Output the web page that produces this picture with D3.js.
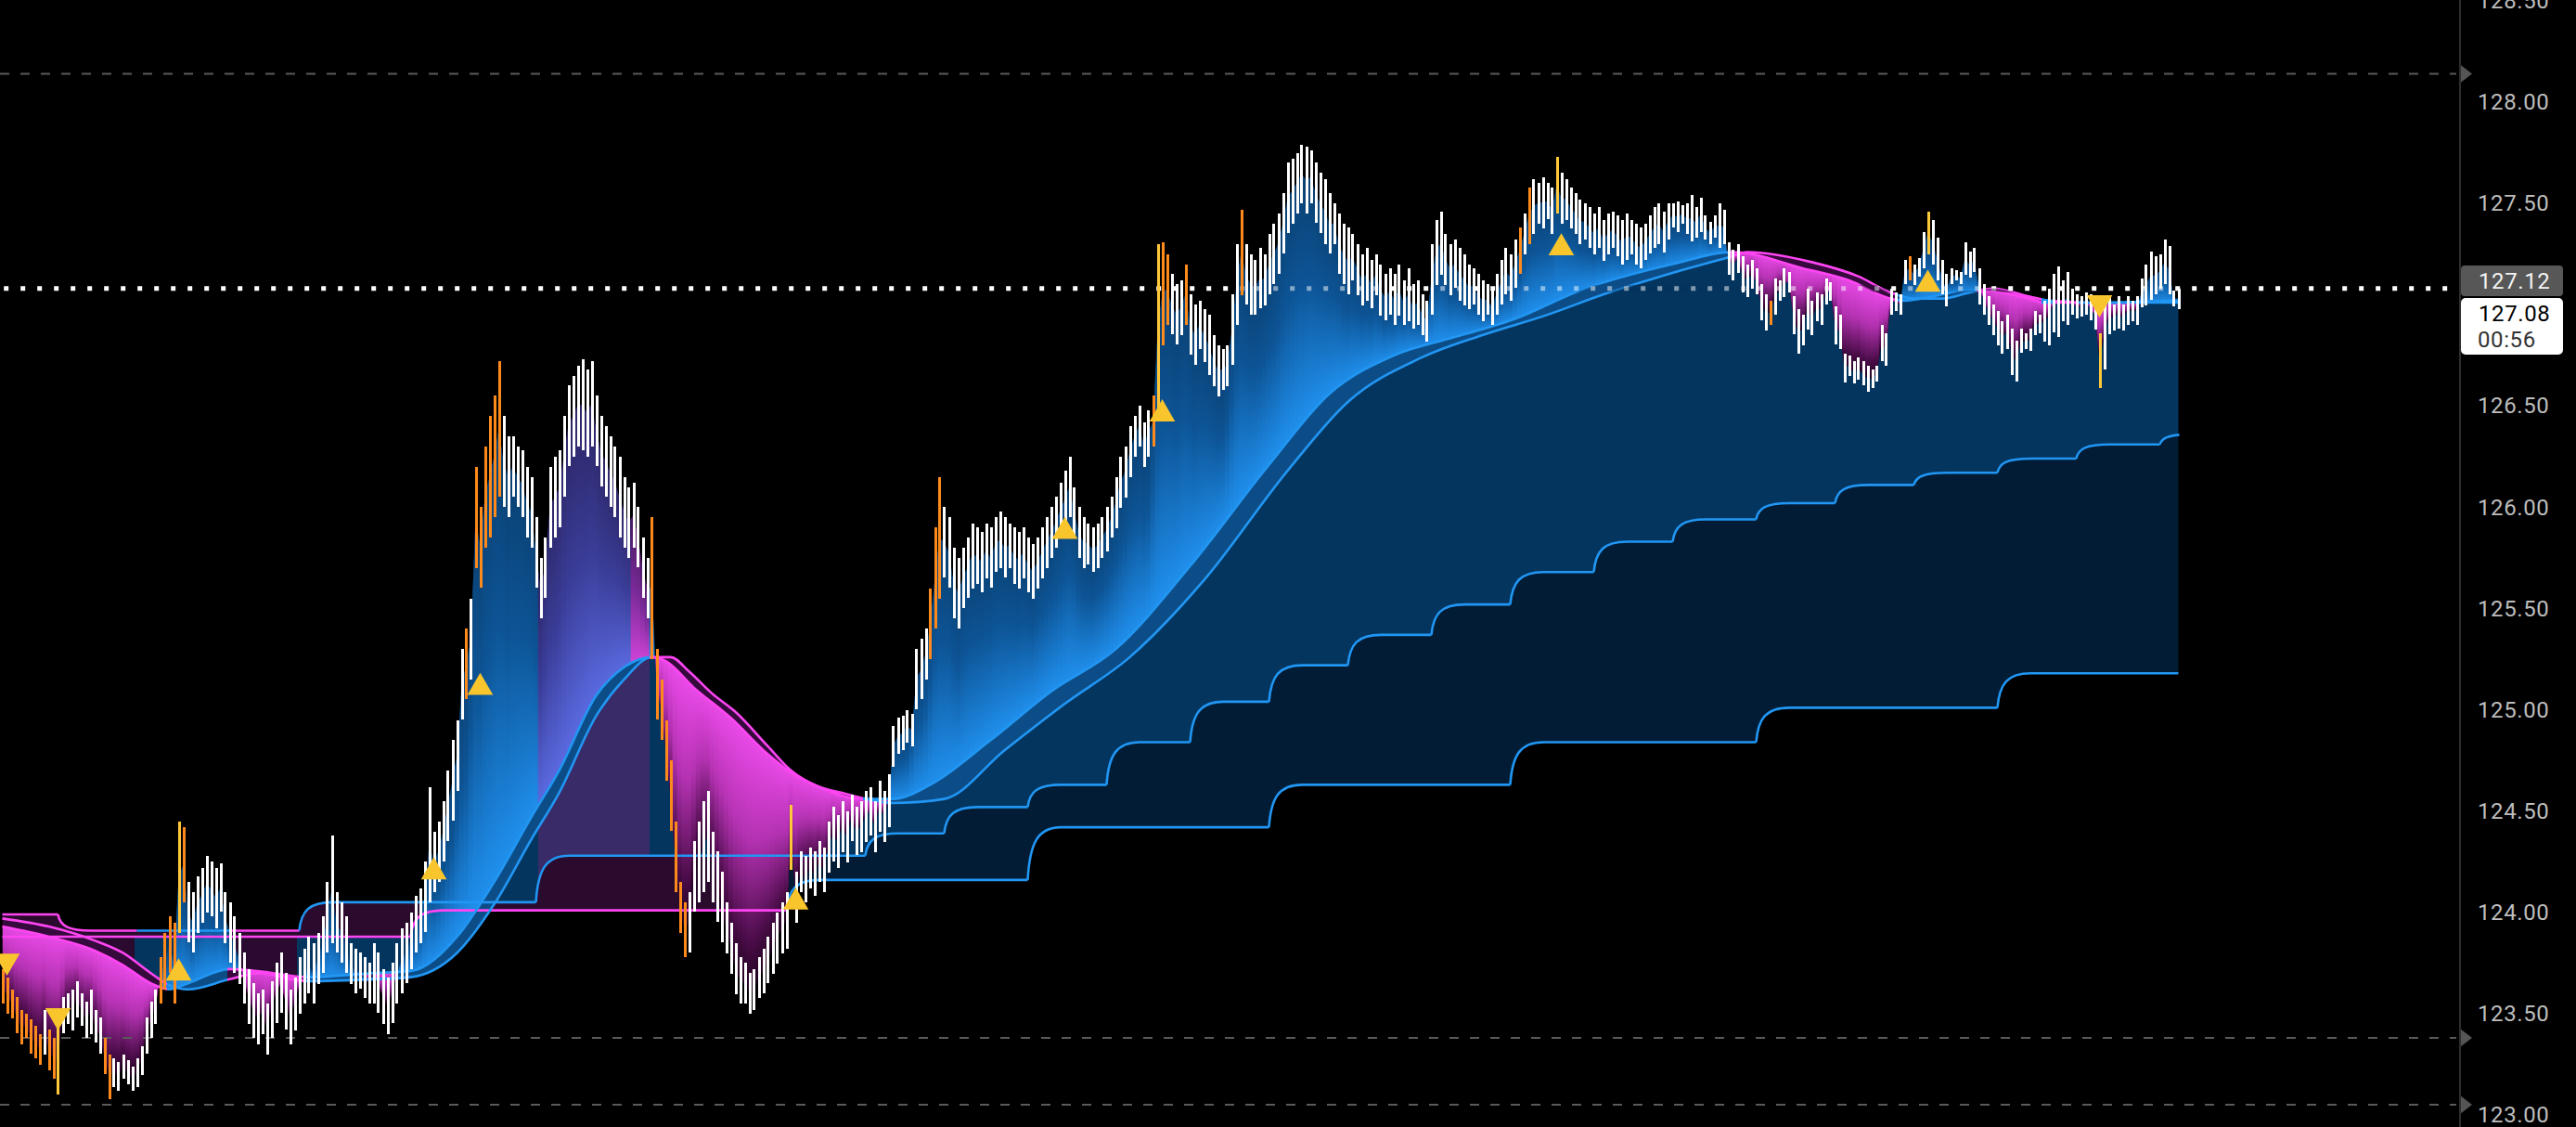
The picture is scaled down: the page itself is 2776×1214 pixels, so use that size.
<!DOCTYPE html>
<html>
<head>
<meta charset="utf-8">
<script src="https://cdn.jsdelivr.net/npm/d3@7"></script>
<style>
  html, body { margin: 0; padding: 0; background: #000; }
  svg { display: block; }
</style>
</head>
<body>
<svg id="chart" width="2776" height="1214"></svg>
<script>
// ---------- data ----------
const barLow = [
  123.55,123.50,123.48,123.40,123.35,123.38,123.30,123.28,123.25,123.30,
  123.22,123.18,123.10,123.40,123.45,123.42,123.48,123.44,123.38,123.40,
  123.36,123.30,123.20,123.08,123.14,123.12,123.18,123.15,123.12,123.14,
  123.20,123.30,123.38,123.45,123.55,123.62,123.70,123.55,123.90,124.05,
  123.85,123.80,123.90,123.95,124.00,123.98,123.92,124.00,123.85,123.75,
  123.70,123.65,123.55,123.45,123.38,123.35,123.40,123.30,123.38,123.45,
  123.50,123.42,123.35,123.42,123.50,123.55,123.60,123.55,123.65,123.70,
  123.80,123.85,123.80,123.75,123.70,123.65,123.60,123.62,123.58,123.55,
  123.55,123.50,123.45,123.40,123.45,123.55,123.60,123.65,123.72,123.80,
  123.85,123.90,124.05,124.10,124.15,124.25,124.35,124.45,124.60,124.95,
  125.05,125.15,125.70,125.60,125.80,125.85,125.95,126.05,126.00,125.95,
  126.05,126.00,125.95,125.85,125.80,125.60,125.45,125.55,125.80,125.85,
  125.90,126.05,126.20,126.25,126.30,126.28,126.25,126.30,126.20,126.10,
  126.05,126.00,125.95,125.85,125.80,125.75,125.80,125.70,125.55,125.45,
  125.25,124.95,124.85,124.65,124.40,124.10,123.90,123.78,123.80,124.00,
  124.05,124.10,124.15,124.05,123.95,123.85,123.80,123.70,123.60,123.55,
  123.55,123.50,123.52,123.58,123.60,123.65,123.70,123.75,123.80,123.82,
  124.21,123.95,124.10,124.05,124.12,124.08,124.15,124.10,124.20,124.25,
  124.22,124.30,124.25,124.35,124.28,124.30,124.35,124.38,124.30,124.40,
  124.35,124.42,124.72,124.78,124.80,124.84,124.82,125.00,125.05,125.15,
  125.25,125.40,125.55,125.65,125.60,125.45,125.40,125.50,125.55,125.60,
  125.62,125.58,125.65,125.60,125.68,125.70,125.65,125.70,125.62,125.60,
  125.65,125.58,125.55,125.60,125.65,125.70,125.75,125.80,125.85,125.90,
  125.95,125.85,125.75,125.70,125.72,125.68,125.70,125.75,125.78,125.85,
  125.90,126.00,126.05,126.15,126.25,126.30,126.20,126.25,126.30,126.45,
  126.80,126.90,126.85,126.80,126.85,126.90,126.75,126.70,126.78,126.72,
  126.65,126.60,126.55,126.58,126.60,126.70,126.90,127.05,127.00,126.95,
  126.95,126.98,127.00,127.05,127.10,127.15,127.25,127.35,127.40,127.45,
  127.50,127.45,127.50,127.40,127.35,127.30,127.25,127.30,127.15,127.10,
  127.05,127.12,127.05,127.00,127.02,126.98,127.05,126.95,126.92,126.95,
  126.90,126.95,126.90,126.92,126.88,126.90,126.85,126.82,126.95,127.10,
  127.15,127.10,127.05,127.08,127.02,127.00,126.98,127.00,126.95,126.92,
  126.95,126.90,126.95,127.00,127.05,127.02,127.08,127.15,127.25,127.30,
  127.35,127.40,127.38,127.42,127.35,127.45,127.40,127.42,127.38,127.35,
  127.30,127.32,127.28,127.25,127.28,127.22,127.25,127.28,127.24,127.20,
  127.22,127.25,127.20,127.18,127.22,127.25,127.28,127.30,127.26,127.32,
  127.38,127.36,127.40,127.35,127.31,127.33,127.36,127.32,127.30,127.33,
  127.28,127.30,127.15,127.12,127.16,127.06,127.04,127.08,127.05,126.92,
  126.87,126.90,126.95,127.02,127.04,127.06,126.85,126.76,126.80,126.88,
  126.85,126.92,126.90,127.00,127.02,126.80,126.78,126.62,126.65,126.61,
  126.63,126.60,126.57,126.59,126.62,126.72,126.70,126.95,126.97,126.95,
  127.10,127.12,127.10,127.14,127.18,127.25,127.20,127.12,127.05,126.99,
  127.10,127.12,127.10,127.15,127.13,127.16,127.00,126.95,126.90,126.85,
  126.80,126.76,126.78,126.65,126.62,126.76,126.78,126.77,126.85,126.86,
  126.82,126.80,126.86,126.84,126.92,126.90,126.95,126.93,126.94,126.95,
  126.92,126.88,126.59,126.68,126.85,126.87,126.88,126.87,126.90,126.92,
  126.90,126.99,127.00,127.02,127.05,127.08,127.10,127.05,126.99,126.98
]
const barHigh = [
  123.72,123.68,123.62,123.58,123.52,123.50,123.47,123.44,123.40,123.52,
  123.42,123.38,123.45,123.58,123.60,123.62,123.66,123.60,123.56,123.62,
  123.52,123.48,123.38,123.30,123.28,123.26,123.30,123.27,123.24,123.28,
  123.34,123.48,123.56,123.62,123.78,123.90,123.98,123.95,124.45,124.42,
  124.15,124.10,124.18,124.22,124.28,124.25,124.22,124.24,124.10,124.05,
  123.98,123.90,123.80,123.72,123.65,123.60,123.62,123.55,123.66,123.75,
  123.80,123.70,123.62,123.68,123.78,123.82,123.88,123.85,123.90,123.98,
  124.15,124.38,124.10,124.05,123.98,123.85,123.82,123.80,123.78,123.75,
  123.85,123.80,123.72,123.68,123.75,123.85,123.92,123.95,124.00,124.08,
  124.12,124.25,124.62,124.40,124.45,124.55,124.70,124.85,124.95,125.30,
  125.40,125.55,126.20,126.00,126.30,126.45,126.55,126.72,126.45,126.35,
  126.35,126.30,126.28,126.20,126.15,125.95,125.75,125.85,126.20,126.25,
  126.28,126.45,126.60,126.65,126.70,126.73,126.68,126.72,126.55,126.45,
  126.40,126.35,126.30,126.25,126.15,126.10,126.12,126.00,125.85,125.75,
  125.95,125.30,125.15,124.95,124.75,124.45,124.15,124.05,124.10,124.35,
  124.45,124.55,124.60,124.40,124.30,124.20,124.05,123.95,123.85,123.78,
  123.75,123.70,123.72,123.78,123.82,123.88,123.95,124.00,124.05,124.10,
  124.53,124.20,124.30,124.28,124.32,124.30,124.35,124.32,124.45,124.52,
  124.48,124.55,124.50,124.58,124.52,124.55,124.60,124.62,124.55,124.65,
  124.60,124.68,124.92,124.96,124.97,125.00,124.98,125.30,125.35,125.40,
  125.60,125.90,126.15,126.00,125.95,125.80,125.75,125.80,125.85,125.92,
  125.90,125.88,125.92,125.90,125.95,125.98,125.95,125.92,125.90,125.88,
  125.90,125.85,125.82,125.85,125.90,125.95,126.00,126.05,126.12,126.18,
  126.25,126.10,126.00,125.95,125.92,125.90,125.92,125.95,126.00,126.05,
  126.15,126.25,126.30,126.40,126.45,126.50,126.42,126.48,126.55,127.30,
  127.31,127.25,127.15,127.10,127.12,127.20,127.05,127.00,127.02,126.98,
  126.95,126.85,126.80,126.78,126.80,127.05,127.30,127.47,127.30,127.25,
  127.22,127.28,127.25,127.35,127.40,127.45,127.55,127.70,127.72,127.75,
  127.79,127.78,127.76,127.70,127.65,127.62,127.55,127.50,127.45,127.40,
  127.38,127.35,127.30,127.25,127.28,127.22,127.25,127.20,127.15,127.18,
  127.15,127.20,127.12,127.18,127.10,127.12,127.05,127.02,127.30,127.42,
  127.46,127.35,127.30,127.32,127.28,127.25,127.20,127.18,127.15,127.12,
  127.10,127.08,127.15,127.22,127.28,127.25,127.32,127.38,127.45,127.58,
  127.62,127.60,127.63,127.60,127.58,127.73,127.65,127.62,127.58,127.55,
  127.52,127.50,127.48,127.45,127.48,127.42,127.45,127.46,127.44,127.42,
  127.45,127.42,127.40,127.38,127.40,127.44,127.48,127.50,127.46,127.50,
  127.50,127.51,127.49,127.50,127.54,127.48,127.53,127.44,127.41,127.44,
  127.50,127.47,127.31,127.27,127.30,127.24,127.20,127.22,127.18,127.10,
  127.05,127.02,127.13,127.12,127.18,127.16,127.04,126.98,126.95,127.08,
  127.02,127.06,127.05,127.13,127.11,126.99,126.95,126.76,126.75,126.72,
  126.74,126.72,126.70,126.68,126.70,126.90,126.86,127.08,127.06,127.05,
  127.22,127.24,127.20,127.23,127.36,127.46,127.42,127.33,127.22,127.15,
  127.18,127.17,127.16,127.31,127.26,127.28,127.18,127.10,127.04,127.00,
  126.97,126.92,126.95,126.88,126.82,126.88,126.86,126.88,126.97,126.95,
  127.02,127.08,127.15,127.19,127.12,127.16,127.08,127.05,127.04,127.06,
  127.05,127.02,126.86,127.02,127.04,127.00,127.04,127.00,127.04,127.02,
  127.04,127.13,127.20,127.26,127.24,127.25,127.32,127.29,127.07,127.08
]
const orangeBars = [0,1,2,3,4,5,6,7,8,10,11,22,23,34,35,36,37,39,100,102,103,104,105,106,107,
  140,141,142,143,144,145,146,147,200,201,202,248,250,251,255,267,327,329,381,411]
const yellowBars = [12,38,170,249,335,415,452]

// fast / slow trend lines: [bar, price]
const trendFast = [[0,123.93],[10,123.88],[20,123.81],[26,123.74],[32,123.65],[36,123.62],[40,123.65],[49,123.72],
  [55,123.71],[66,123.68],[80,123.70],[88,123.71],[98,123.88],[106,124.15],[114,124.47],[120,124.70],[128,125.07],
  [134,125.21],[140,125.26],[143,125.24],[149,125.11],[157,124.96],[165,124.78],[170,124.69],[177,124.61],[185,124.56],
  [192,124.56],[200,124.63],[213,124.85],[226,125.09],[240,125.30],[256,125.71],[273,126.21],[286,126.56],[300,126.75],
  [313,126.84],[326,126.93],[340,127.07],[360,127.20],[373,127.26],[388,127.18],[398,127.12],[407,127.03],[410,127.02],
  [416,127.04],[423,127.07],[427,127.07],[437,127.03],[440,127.01],[444,127.01],[451,127.01],[469,127.02]]
const trendSlow = [[0,123.97],[10,123.93],[20,123.86],[26,123.80],[32,123.70],[36,123.64],[40,123.62],[49,123.67],
  [55,123.70],[66,123.66],[80,123.67],[88,123.68],[98,123.80],[106,124.04],[114,124.36],[120,124.59],[128,124.97],
  [134,125.15],[140,125.26],[144,125.26],[148,125.19],[153,125.08],[158,124.99],[165,124.82],[170,124.70],[176,124.62],
  [181,124.59],[186,124.56],[192,124.54],[203,124.56],[216,124.80],[229,125.03],[243,125.26],[259,125.64],[277,126.18],
  [290,126.52],[306,126.74],[319,126.85],[333,126.95],[345,127.05],[362,127.17],[373,127.24],[376,127.26],[390,127.21],
  [400,127.14],[407,127.06],[412,127.03],[418,127.03],[424,127.06],[429,127.08],[437,127.04],[441,127.02],[451,127.01],
  [469,127.01]]

// stepped levels: [bar where the step starts, new price, side]
const upperLevel = [[0,123.99,'dn'],[12,123.91,'dn'],[29,123.91,'up'],[49,123.91,'dn'],[64,124.05,'up'],
  [115,124.28,'up'],[186,124.39,'up'],[203,124.52,'up'],[221,124.63,'up'],[238,124.84,'up'],[256,125.04,'up'],
  [273,125.22,'up'],[290,125.37,'up'],[308,125.52,'up'],[325,125.68,'up'],[343,125.83,'up'],[360,125.94,'up'],
  [378,126.02,'up'],[395,126.11,'up'],[412,126.17,'up'],[430,126.24,'up'],[447,126.31,'up'],[465,126.36,'up']]
const lowerLevel = [[0,123.88,'dn'],[88,124.01,'dn'],[169,124.16,'up'],[221,124.42,'up'],[273,124.63,'up'],
  [325,124.84,'up'],[378,125.01,'up'],[430,125.18,'up']]

const regimes = [[0,'dn'],[36,'up'],[49,'dn'],[66,'up'],[140,'dn'],[186,'up'],[373,'dn'],[409,'up'],
  [426,'dn'],[440,'up'],[443,'dn'],[448,'up']]
const upFillTint = [[0,'blue'],[116,'violet'],[136,'pink'],[140,'blue']]
const cloudTint = [[0,'dn'],[29,'up'],[49,'dn'],[64,'up'],[116,'violet'],[140,'up']]

const signalsUp = [[38,123.70],[93,124.20],[103,125.11],[171,124.05],[229,125.88],[250,126.46],[336,127.28],[415,127.10]]
const signalsDown = [[1,123.76],[12,123.49],[452,127.01]]

const alertLevels = [128.14, 123.38, 123.05]
const yTicks = [123.0,123.5,124.0,124.5,125.0,125.5,126.0,126.5,127.0,127.5,128.0,128.5]
const lastPrice = 127.08
const refPrice = 127.12
const countdown = '00:56'

// ---------- setup ----------
const svg = d3.select('#chart')
const width = 2776, height = 1214
const axisX = 2651
const n = barLow.length

const x = d3.scaleLinear().domain([0, n - 1]).range([2.5, 2347.5])
const y = d3.scaleLinear().domain([123, 128]).range([1201, 110])
const xEnd = x(n - 1) + 1
const barStep = x(1) - x(0)

const colUp = '#2196f3', colDn = '#ff45f3'
const stepW = 36

svg.append('rect').attr('width', width).attr('height', height).attr('fill', '#000')
const defs = svg.append('defs')

let clipCount = 0
function clip(d) {
  const id = 'clip' + (clipCount++)
  defs.append('clipPath').attr('id', id).append('path').attr('d', d)
  return 'url(#' + id + ')'
}

let gradCount = 0
function hGrad(segs, colorOf) {
  const id = 'grad' + (gradCount++)
  const g = defs.append('linearGradient').attr('id', id)
    .attr('gradientUnits', 'userSpaceOnUse')
    .attr('x1', 0).attr('y1', 0).attr('x2', width).attr('y2', 0)
  segs.forEach((s, k) => {
    const a = k === 0 ? 0 : (x(s[0]) - 2.5) / width
    const b = k === segs.length - 1 ? 1 : (x(segs[k + 1][0]) - 2.5) / width
    g.append('stop').attr('offset', a).attr('stop-color', colorOf(s[1]))
    g.append('stop').attr('offset', b).attr('stop-color', colorOf(s[1]))
  })
  return 'url(#' + id + ')'
}
// vertical gradient per column (bounding box units)
function vGrad(id, stops) {
  const g = defs.append('linearGradient').attr('id', id)
    .attr('x1', 0).attr('y1', 0).attr('x2', 0).attr('y2', 1)
  stops.forEach(s => g.append('stop').attr('offset', s[0]).attr('stop-color', s[1]))
  return 'url(#' + id + ')'
}

const knotLine = d3.line().x(d => x(d[0])).y(d => y(d[1])).curve(d3.curveMonotoneX)
const straight = d3.line().x(d => x(d[0])).y(d => y(d[1]))

function curveOf(knots) {
  return { d: knotLine(knots), x0: x(knots[0][0]), x1: x(knots[knots.length - 1][0]) }
}
const above = c => c.d + 'L' + c.x1 + ',-50L' + c.x0 + ',-50Z'
const below = c => c.d + 'L' + c.x1 + ',' + (height + 50) + 'L' + c.x0 + ',' + (height + 50) + 'Z'

function bez(xs, y0, y1) {
  return 'C' + (xs + stepW * 0.06) + ',' + (y0 + (y1 - y0) * 0.7) + ' ' +
    (xs + stepW * 0.3) + ',' + y1 + ' ' + (xs + stepW) + ',' + y1
}

// whole stepped line as one path (for fills)
function levelCurve(steps) {
  let d = 'M' + x(steps[0][0]) + ',' + y(steps[0][1])
  let xe = x(n - 1)
  for (let k = 1; k < steps.length; k++) {
    const xs = x(steps[k][0]), y0 = y(steps[k - 1][1]), y1 = y(steps[k][1])
    d += 'L' + xs + ',' + y0
    if (y0 !== y1) { d += bez(xs, y0, y1); xe = Math.max(xe, xs + stepW) }
  }
  d += 'L' + xe + ',' + y(steps[steps.length - 1][1])
  return { d: d, x0: x(steps[0][0]), x1: xe }
}

// coloured pieces of a stepped line
function levelPieces(steps) {
  return steps.map((s, k) => {
    const xs = x(s[0]), yv = y(s[1])
    let d, reach = xs
    if (k === 0) d = 'M' + xs + ',' + yv
    else {
      const y0 = y(steps[k - 1][1])
      d = 'M' + xs + ',' + y0
      if (y0 !== yv) { d += bez(xs, y0, yv); reach = xs + stepW }
    }
    const nx = k < steps.length - 1 ? x(steps[k + 1][0]) : x(n - 1)
    d += 'L' + Math.max(nx, reach) + ',' + yv
    return { d: d, side: s[2] }
  })
}

function fillBetween(parent, a, b, fill) {
  const g = parent.append('g')
  const r = sel => sel.append('rect').attr('x', 0).attr('y', 0)
    .attr('width', xEnd).attr('height', height).attr('fill', fill)
  r(g.append('g').attr('clip-path', clip(below(a))).append('g').attr('clip-path', clip(above(b))))
  r(g.append('g').attr('clip-path', clip(above(a))).append('g').attr('clip-path', clip(below(b))))
}

function segAt(segs, i) {
  let v = segs[0][1]
  segs.forEach(s => { if (i >= s[0]) v = s[1] })
  return v
}

const mids = barLow.map((l, i) => [i, (l + barHigh[i]) / 2])
const price = { d: straight(mids), x0: x(0), x1: x(n - 1) }
const fast = curveOf(trendFast)
const slow = curveOf(trendSlow)
const upper = levelCurve(upperLevel)
const lower = levelCurve(lowerLevel)

// screen y of the drawn fast trend at each bar
const probe = svg.append('path').attr('d', fast.d).attr('fill', 'none')
const pNode = probe.node(), pLen = pNode.getTotalLength()
function pathYAt(px) {
  let lo = 0, hi = pLen
  for (let k = 0; k < 26; k++) {
    const m = (lo + hi) / 2
    if (pNode.getPointAtLength(m).x < px) lo = m; else hi = m
  }
  return pNode.getPointAtLength((lo + hi) / 2).y
}
const trendY = mids.map(d => pathYAt(x(d[0])))
probe.remove()
const midY = mids.map(d => y(d[1]))

const plot = svg.append('g').attr('clip-path', clip('M0,0H' + xEnd + 'V' + height + 'H0Z'))
const fills = plot.append('g').attr('id', 'fills')

// cloud between the slow trend and the upper level, and between both levels
const cloudColor = { up: '#04355f', dn: '#2a0a2e', violet: '#392b68' }
fillBetween(fills, slow, upper, hGrad(cloudTint, t => cloudColor[t]))
const bandColor = { up: '#021c35', dn: '#2b0b2d' }
fillBetween(fills, upper, lower, hGrad(lowerLevel.map(s => [s[0], s[2]]), t => bandColor[t]))

// band between fast and slow trend
fillBetween(fills, fast, slow, hGrad(regimes, t => t === 'up' ? '#0c4d88' : '#360a3c'))

// price-to-trend fills: each bar column fades from the price to the trend
const upBase = { blue: '#0a3f70', violet: '#2c2564', pink: '#45195c' }
const upCol = {
  blue: vGrad('upBlue', [[0, '#0a3f70'], [0.45, '#0d5597'], [1, '#2090ee']]),
  violet: vGrad('upViolet', [[0, '#2c2564'], [0.5, '#3a3d98'], [1, '#5a6ae0']]),
  pink: vGrad('upPink', [[0, '#45195c'], [0.5, '#7a2a98'], [1, '#d044d8']])
}
const dnCol = vGrad('dnPink', [[0, '#ea4ae8'], [0.4, '#b432b2'], [0.8, '#4a0c48'], [1, '#1c031a']])

const upG = fills.append('g').attr('clip-path', clip(below(price)))
  .append('g').attr('clip-path', clip(above(fast)))
upG.append('rect').attr('width', xEnd).attr('height', height).attr('fill', hGrad(upFillTint, t => upBase[t]))
const dnG = fills.append('g').attr('clip-path', clip(above(price)))
  .append('g').attr('clip-path', clip(below(fast)))
dnG.append('rect').attr('width', xEnd).attr('height', height).attr('fill', '#1c031a')

mids.forEach((d, i) => {
  const my = midY[i], ty = trendY[i]
  const nb = [midY[Math.max(0, i - 1)], midY[Math.min(n - 1, i + 1)]]
  if (my < ty) {
    const top = Math.min(my, (my + nb[0]) / 2, (my + nb[1]) / 2) - 1
    upG.append('rect').attr('x', x(i) - barStep / 2 - 0.3).attr('width', barStep + 0.6)
      .attr('y', top).attr('height', ty - top + 3)
      .attr('fill', upCol[segAt(upFillTint, i)])
  } else {
    const bot = Math.max(my, (my + nb[0]) / 2, (my + nb[1]) / 2) + 1
    dnG.append('rect').attr('x', x(i) - barStep / 2 - 0.3).attr('width', barStep + 0.6)
      .attr('y', ty - 3).attr('height', bot - ty + 3)
      .attr('fill', dnCol)
  }
})

// level lines
const lines = plot.append('g').attr('fill', 'none').attr('stroke-width', 2.6)
levelPieces(upperLevel).concat(levelPieces(lowerLevel)).forEach(p => {
  lines.append('path').attr('d', p.d).attr('stroke', p.side === 'up' ? colUp : colDn)
})
// trend lines
const trendPaint = hGrad(regimes, t => t === 'up' ? colUp : colDn)
lines.append('path').attr('d', slow.d).attr('stroke', trendPaint)
lines.append('path').attr('d', fast.d).attr('stroke', trendPaint)

// dashed alert levels with markers
const alerts = svg.append('g')
alerts.selectAll('line').data(alertLevels).join('line')
  .attr('x1', 0).attr('x2', axisX - 4)
  .attr('y1', d => y(d)).attr('y2', d => y(d))
  .attr('stroke', '#5a5a5a').attr('stroke-width', 2).attr('stroke-dasharray', '10,12')
alerts.selectAll('path').data(alertLevels).join('path')
  .attr('d', d => 'M' + axisX + ',' + (y(d) - 10) + 'L' + (axisX + 13) + ',' + y(d) + 'L' + axisX + ',' + (y(d) + 10) + 'Z')
  .attr('fill', '#555')

// dotted last-price line, tinted where it crosses the fills
const yLast = y(lastPrice)
svg.append('line').attr('x1', 0).attr('x2', axisX - 8).attr('y1', yLast).attr('y2', yLast)
  .attr('stroke', '#fff').attr('stroke-width', 5).attr('stroke-dasharray', '5,13').attr('stroke-dashoffset', 13.8)
svg.append('use').attr('href', '#fills').attr('opacity', 0.5)
  .attr('clip-path', clip('M0,' + (yLast - 4) + 'H' + axisX + 'V' + (yLast + 4) + 'H0Z'))

// price bars
const orangeSet = new Set(orangeBars), yellowSet = new Set(yellowBars)
svg.append('g').attr('shape-rendering', 'crispEdges')
  .selectAll('rect').data(barLow).join('rect')
  .attr('x', (d, i) => Math.round(x(i)) - 1).attr('width', 3)
  .attr('y', (d, i) => Math.round(y(barHigh[i])))
  .attr('height', (d, i) => Math.max(3, Math.round(y(d) - y(barHigh[i]))))
  .attr('fill', (d, i) => yellowSet.has(i) ? '#ffc83a' : orangeSet.has(i) ? '#ff8a1c' : '#ffffff')

// signal triangles
const tri = d3.symbol().type(d3.symbolTriangle).size(330)
const sig = svg.append('g').attr('fill', '#f9c52d')
sig.selectAll('.up').data(signalsUp).join('path').attr('class', 'up')
  .attr('d', tri).attr('transform', d => 'translate(' + x(d[0]) + ',' + y(d[1]) + ')')
sig.selectAll('.dn').data(signalsDown).join('path').attr('class', 'dn')
  .attr('d', tri).attr('transform', d => 'translate(' + x(d[0]) + ',' + y(d[1]) + ') rotate(180)')

// right price axis
svg.append('line').attr('x1', axisX).attr('x2', axisX).attr('y1', 0).attr('y2', height)
  .attr('stroke', '#2e2e2e').attr('stroke-width', 2)
const yAxis = d3.axisRight(y)
  .tickValues(yTicks.filter(v => Math.abs(y(v) - yLast) > 45))
  .tickFormat(d3.format('.2f')).tickSize(0).tickPadding(19)
svg.append('g').attr('transform', 'translate(' + axisX + ',0)').call(yAxis)
  .call(g => g.select('.domain').remove())
  .selectAll('text')
  .attr('fill', '#bdbdbd')
  .style('font-family', 'Roboto, "Liberation Sans", sans-serif')
  .style('font-size', '24px')
  .style('letter-spacing', '0.6px')

// price labels
const yRef = y(refPrice)
const lbl = svg.append('g').style('font-family', 'Roboto, "Liberation Sans", sans-serif')
  .style('font-size', '24px').style('letter-spacing', '0.6px')
lbl.append('rect').attr('x', axisX + 1).attr('y', yRef - 16).attr('width', 110).attr('height', 33)
  .attr('rx', 4).attr('fill', '#575757')
lbl.append('text').attr('x', axisX + 20).attr('y', yRef + 9).attr('fill', '#f2f2f2').text(d3.format('.2f')(refPrice))
const boxTop = yRef + 19
lbl.append('rect').attr('x', axisX + 1).attr('y', boxTop).attr('width', 110).attr('height', 61)
  .attr('rx', 5).attr('fill', '#ffffff')
lbl.append('text').attr('x', axisX + 20).attr('y', boxTop + 25).attr('fill', '#000').text(d3.format('.2f')(lastPrice))
lbl.append('text').attr('x', axisX + 19).attr('y', boxTop + 53).attr('fill', '#333').text(countdown)
</script>
</body>
</html>
